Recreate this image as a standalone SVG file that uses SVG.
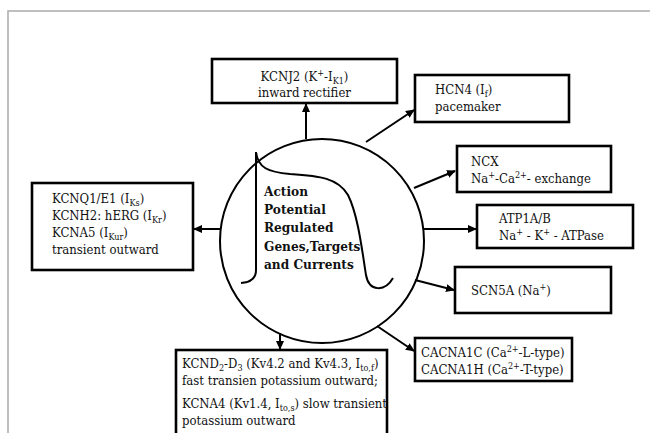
<svg xmlns="http://www.w3.org/2000/svg" width="650" height="433" viewBox="0 0 650 433">
<style>
.box{fill:#fff;stroke:#000;stroke-width:2.6}
.t{font-family:'DejaVu Serif Condensed','DejaVu Serif',serif;font-stretch:condensed;font-size:13px;fill:#111}
.b{font-family:'DejaVu Serif Condensed','DejaVu Serif',serif;font-stretch:condensed;font-size:13.5px;font-weight:bold;fill:#111}
.s{font-size:9px}
.c{fill:none;stroke:#000;stroke-width:2}
.a{fill:none;stroke:#000;stroke-width:2;marker-end:url(#ah)}
</style>
<defs>
<marker id="ah" markerUnits="userSpaceOnUse" markerWidth="9" markerHeight="8" refX="8" refY="4" orient="auto">
<path d="M0,0 L9,4 L0,8 Z" fill="#000"/>
</marker>
</defs>
<rect width="650" height="433" fill="#fff"/>
<path d="M8,433 L8,11 L650,11" fill="none" stroke="#aaa" stroke-width="1.5"/>
<g id="center">
<circle class="c" cx="322" cy="241" r="102"/>
<path class="c" d="M241,283 Q256,282 256,270 L256,152 C258,168 268,172 290,174 C320,176 338,178 348,195 C358,215 362,250 366,275 C369,292 385,292 393,278"/>
<text class="b"><tspan x="264" y="196">Action</tspan><tspan x="264" y="214">Potential</tspan><tspan x="264" y="232">Regulated</tspan><tspan x="264" y="251">Genes,Targets</tspan><tspan x="264" y="269">and Currents</tspan></text>
</g>
<g id="connectors">
<line class="a" x1="306" y1="139" x2="306" y2="104"/>
<line class="a" x1="366" y1="142" x2="414" y2="110"/>
<line class="a" x1="414" y1="188" x2="455" y2="171"/>
<line class="a" x1="424" y1="229" x2="476" y2="229"/>
<line class="a" x1="415" y1="280" x2="454" y2="290"/>
<line class="a" x1="377" y1="326" x2="414" y2="351"/>
<line class="a" x1="220" y1="229" x2="194" y2="229"/>
<line class="a" x1="280" y1="333" x2="280" y2="349"/>
</g>
<g id="kcnj2">
<rect class="box" x="212" y="59" width="185" height="44"/>
<text class="t" text-anchor="middle"><tspan x="304.5" y="81">KCNJ2 (K<tspan class="s" dy="-5">+</tspan><tspan dy="5">-I</tspan><tspan class="s" dy="3">K1</tspan><tspan dy="-3">)</tspan></tspan><tspan x="304.5" y="97">inward rectifier</tspan></text>
</g>
<g id="hcn4">
<rect class="box" x="415" y="75" width="154" height="47"/>
<text class="t"><tspan x="435" y="94">HCN4 (I<tspan class="s" dy="3">f</tspan><tspan dy="-3">)</tspan></tspan><tspan x="435" y="111">pacemaker</tspan></text>
</g>
<g id="ncx">
<rect class="box" x="457" y="146" width="154" height="46"/>
<text class="t"><tspan x="471" y="166">NCX</tspan><tspan x="471" y="183">Na<tspan class="s" dy="-5">+</tspan><tspan dy="5">-Ca</tspan><tspan class="s" dy="-5">2+</tspan><tspan dy="5">- exchange</tspan></tspan></text>
</g>
<g id="atp1a">
<rect class="box" x="477" y="205" width="156" height="43"/>
<text class="t"><tspan x="499" y="223">ATP1A/B</tspan><tspan x="499" y="240">Na<tspan class="s" dy="-5">+</tspan><tspan dy="5"> - K</tspan><tspan class="s" dy="-5">+</tspan><tspan dy="5"> - ATPase</tspan></tspan></text>
</g>
<g id="scn5a">
<rect class="box" x="455" y="267" width="156" height="46"/>
<text class="t"><tspan x="471" y="295">SCN5A (Na<tspan class="s" dy="-5">+</tspan><tspan dy="5">)</tspan></tspan></text>
</g>
<g id="cacna">
<rect class="box" x="415" y="338" width="157" height="43"/>
<text class="t"><tspan x="421" y="357">CACNA1C (Ca<tspan class="s" dy="-5">2+</tspan><tspan dy="5">-L-type)</tspan></tspan><tspan x="421" y="374">CACNA1H (Ca<tspan class="s" dy="-5">2+</tspan><tspan dy="5">-T-type)</tspan></tspan></text>
</g>
<g id="kcnq1">
<rect class="box" x="32" y="183" width="161" height="87"/>
<text class="t"><tspan x="52" y="203">KCNQ1/E1 (I<tspan class="s" dy="3">Ks</tspan><tspan dy="-3">)</tspan></tspan><tspan x="52" y="220">KCNH2: hERG (I<tspan class="s" dy="3">Kr</tspan><tspan dy="-3">)</tspan></tspan><tspan x="52" y="237">KCNA5 (I<tspan class="s" dy="3">Kur</tspan><tspan dy="-3">)</tspan></tspan><tspan x="52" y="254">transient outward</tspan></text>
</g>
<g id="kcnd">
<rect class="box" x="176" y="350" width="211" height="90"/>
<text class="t"><tspan x="182" y="368">KCND<tspan class="s" dy="3">2</tspan><tspan dy="-3">-D</tspan><tspan class="s" dy="3">3</tspan><tspan dy="-3"> (Kv4.2 and Kv4.3, I</tspan><tspan class="s" dy="3">to,f</tspan><tspan dy="-3">)</tspan></tspan><tspan x="182" y="385">fast transien potassium outward;</tspan><tspan x="182" y="408">KCNA4 (Kv1.4, I<tspan class="s" dy="3">to,s</tspan><tspan dy="-3">) slow transient</tspan></tspan><tspan x="182" y="425">potassium outward</tspan></text>
</g>
</svg>
